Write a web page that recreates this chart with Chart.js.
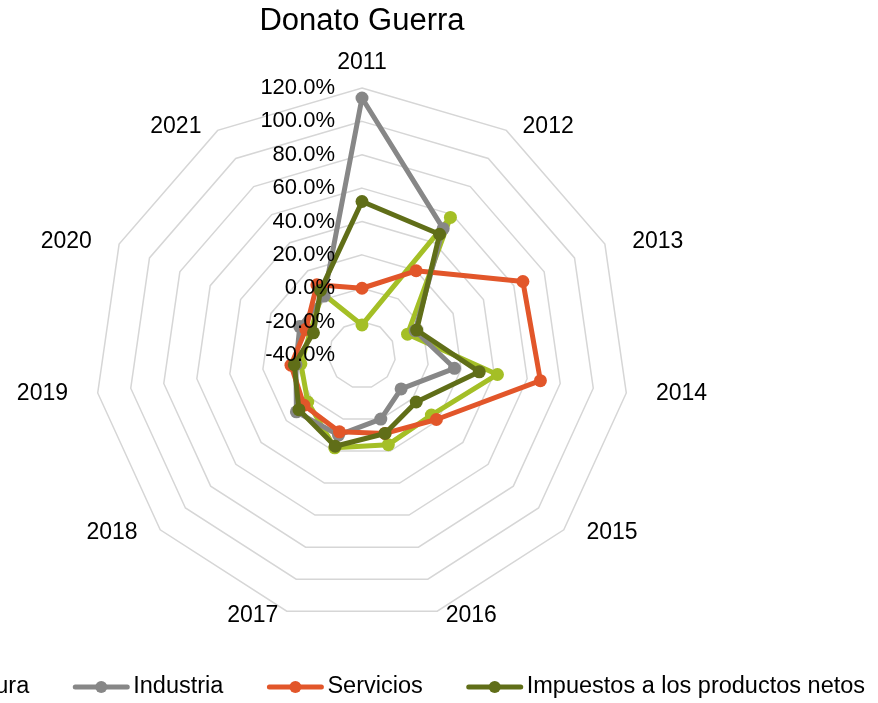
<!DOCTYPE html>
<html>
<head>
<meta charset="utf-8">
<script src="https://cdn.jsdelivr.net/npm/chart.js@4.4.1/dist/chart.umd.min.js"></script>
<style>
    body { margin: 0; background: #fff; }
    canvas { display: block; }
</style>
</head>
<body>
<canvas id="chart" width="878" height="703"></canvas>
<script>
// data ------
var years = ['2011', '2012', '2013', '2014', '2015', '2016', '2017', '2018', '2019', '2020', '2021'];
var agricultura = [-22, 58, -10, 42, 15, 16, 18, 3, -3, -6, 4];
var industria = [114, 50, -5, 16, -9, 0, 10, 12, 0, 1, 2];
var servicios = [0, 20, 66, 68, 19, 9, 8, 6, 3, -3, 10];
var impuestos = [52, 46, -4, 31, 3, 9, 17, 10, 1, -8, 6];

var seriesNames = ['Agricultura', 'Industria', 'Servicios', 'Impuestos a los productos netos'];
var seriesColors = ['#a4bf26', '#878787', '#e2562a', '#606e18'];

var fontFamily = '"Liberation Sans", Arial, sans-serif';

function makeSet(i, values) {
    return {
        label: seriesNames[i],
        data: values,
        borderColor: seriesColors[i],
        backgroundColor: seriesColors[i],
        pointBackgroundColor: seriesColors[i],
        pointBorderWidth: 0,
        pointRadius: 6.5,
        borderWidth: 5,
        borderJoinStyle: 'round',
        fill: false,
        // first series at the bottom, last on top
        order: 4 - i
    };
}

// tick labels to the left of the vertical axis, point labels around the outside
var radarText = {
    id: 'radarText',
    afterDraw: function (chart) {
        var ctx = chart.ctx;
        var scale = chart.scales.r;
        var cx = scale.xCenter;
        var cy = scale.yCenter;
        var R = scale.drawingArea;

        ctx.save();
        ctx.fillStyle = '#000';
        ctx.textBaseline = 'middle';

        ctx.font = '22px ' + fontFamily;
        ctx.textAlign = 'right';
        scale.ticks.forEach(function (t) {
            var d = scale.getDistanceFromCenterForValue(t.value);
            ctx.fillText(t.value.toFixed(1) + '%', cx - 27, cy - d);
        });

        ctx.font = '23px ' + fontFamily;
        ctx.textAlign = 'center';
        chart.data.labels.forEach(function (lab, i) {
            var p = scale.getPointPosition(i, R + 30);
            var q = scale.getPointPosition(i, R + 5);
            var w = ctx.measureText(lab).width;
            var x = p.x;
            var y = q.y;
            if (Math.abs(p.x - cx) > 1) {
                x += (p.x > cx ? 1 : -1) * w / 2;
            } else if (q.y < cy) {
                y -= 20;
            }
            ctx.fillText(lab, x, y);
        });

        // legend, centred under the plot
        ctx.font = '23.5px ' + fontFamily;
        ctx.textAlign = 'left';
        var lineLen = 52, gapText = 6, gapItem = 46;
        var total = 0;
        seriesNames.forEach(function (n, i) {
            total += lineLen + gapText + ctx.measureText(n).width;
            if (i < seriesNames.length - 1) total += gapItem;
        });
        var x0 = cx - total / 2;
        var ly = 687;
        seriesNames.forEach(function (n, i) {
            ctx.strokeStyle = seriesColors[i];
            ctx.lineWidth = 5;
            ctx.lineCap = 'round';
            ctx.beginPath();
            ctx.moveTo(x0, ly);
            ctx.lineTo(x0 + lineLen, ly);
            ctx.stroke();
            ctx.fillStyle = seriesColors[i];
            ctx.beginPath();
            ctx.arc(x0 + lineLen / 2, ly, 6, 0, Math.PI * 2);
            ctx.fill();
            ctx.fillStyle = '#000';
            ctx.fillText(n, x0 + lineLen + gapText, ly);
            x0 += lineLen + gapText + ctx.measureText(n).width + gapItem;
        });
        ctx.restore();
    }
};

var options = {
    responsive: false,
    animation: false,
    layout: {
        padding: { left: 94, right: 248, top: 0, bottom: 80 }
    },
    plugins: {
        legend: { display: false },
        tooltip: { enabled: false },
        title: {
            display: true,
            text: 'Donato Guerra',
            color: '#000',
            font: { family: fontFamily, size: 31, weight: 'normal' },
            padding: { top: 3, bottom: 47 }
        }
    },
    scales: {
        r: {
            min: -40,
            max: 120,
            ticks: {
                stepSize: 20,
                display: false
            },
            pointLabels: { display: false },
            angleLines: { display: false },
            grid: {
                circular: false,
                color: '#d6d6d6',
                lineWidth: 1.5
            }
        }
    },
    elements: {
        line: { tension: 0 }
    }
};

var chart = new Chart(document.getElementById('chart'), {
    type: 'radar',
    data: {
        labels: years,
        datasets: [
            makeSet(0, agricultura),
            makeSet(1, industria),
            makeSet(2, servicios),
            makeSet(3, impuestos)
        ]
    },
    options: options,
    plugins: [radarText]
});
</script>
</body>
</html>
